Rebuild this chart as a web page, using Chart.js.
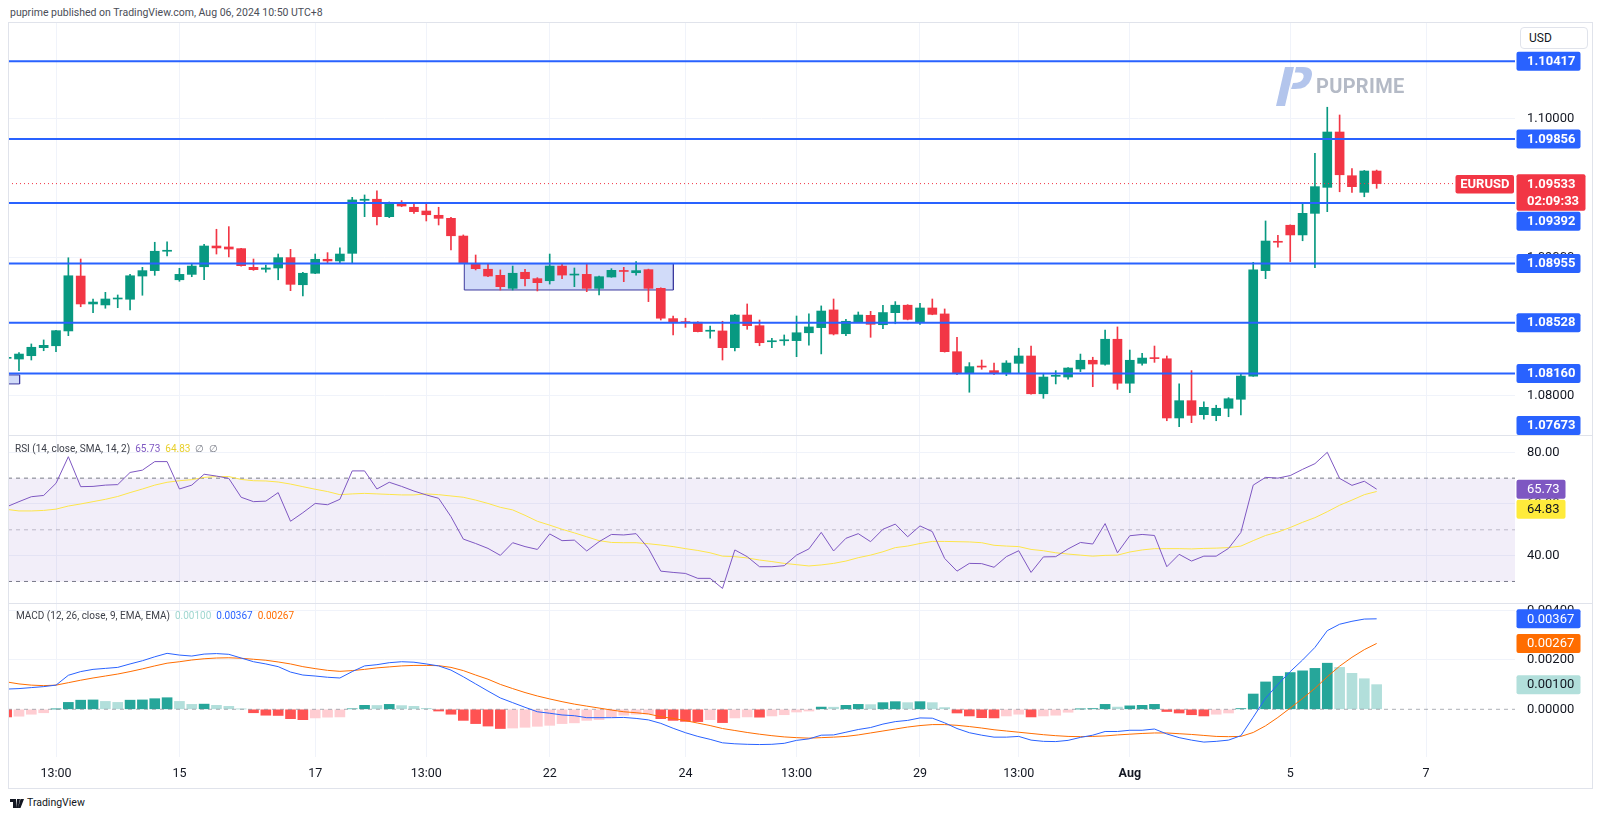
<!DOCTYPE html>
<html><head><meta charset="utf-8"><title>EURUSD 4H</title>
<script src="https://cdn.jsdelivr.net/npm/chart.js@4.4.1/dist/chart.umd.min.js"></script>
<style>
html,body{margin:0;padding:0;background:#fff;}
body{width:1600px;height:819px;position:relative;overflow:hidden;font-family:Roboto,"Liberation Sans",Arial,sans-serif;color:#131722;}
#hdr{position:absolute;left:10px;top:6px;font-size:10.5px;line-height:13px;color:#4a4d57;white-space:nowrap;}
#frame{position:absolute;left:8px;top:22px;width:1585px;height:767px;border:1px solid #e0e3eb;box-sizing:border-box;pointer-events:none;z-index:5;}
.sep{position:absolute;left:8px;width:1585px;height:1px;background:#e0e3eb;z-index:5;}
canvas{position:absolute;left:8px;}
#cMain{top:23px;} #cRsi{top:435px;} #cMacd{top:603px;}
.legend{position:absolute;font-size:10px;line-height:12px;white-space:nowrap;z-index:6;color:#3b3e48;}
.legend span{margin-left:5px;}
#usd{position:absolute;left:1520px;top:27px;width:68px;height:22px;box-sizing:border-box;border:1px solid #e0e3eb;border-radius:4px;font-size:12px;line-height:20px;padding-left:8px;color:#131722;background:#fff;z-index:6;}
#wm{position:absolute;left:1272px;top:64px;z-index:4;pointer-events:none;}
#wmt{position:absolute;left:1316px;top:74px;font-size:20px;font-weight:bold;color:#b4bac6;letter-spacing:0.3px;z-index:4;}
#tv{position:absolute;left:10px;top:796px;font-size:10.5px;color:#131722;white-space:nowrap;}
#tv svg{vertical-align:-2px;margin-right:3px;}
</style></head>
<body>
<div id="hdr">puprime published on TradingView.com, Aug 06, 2024 10:50 UTC+8</div>
<canvas id="cMain" width="1584" height="412"></canvas>
<canvas id="cRsi" width="1584" height="168"></canvas>
<canvas id="cMacd" width="1584" height="185"></canvas>
<div id="frame"></div>
<div class="sep" style="top:435px"></div>
<div class="sep" style="top:603px"></div>
<div id="usd">USD</div>
<svg id="wm" width="44" height="44" viewBox="0 0 44 44">
  <path d="M4 42 L13 3 L22 3 L13 42 Z" fill="#b3c5ec"/>
  <path d="M24 3 L31 3 Q43 3 39 15 Q36 25 23 25 L19 25 L21 19 Q30 19 31.5 13.5 Q32.5 8.5 26.5 8.5 L22.8 8.5 Z" fill="#b3c5ec"/>
</svg>
<div id="wmt">PUPRIME</div>
<div class="legend" id="lgRsi" style="left:15px;top:443px"></div>
<div class="legend" id="lgMacd" style="left:16px;top:610px"></div>
<div id="tv"><svg width="14" height="9" viewBox="0 0 14 9"><path d="M0 0h6v9H3V3H0z M7 0h3l-2 9H6z M10.5 0H14l-3.5 9H8z" fill="#131722"/></svg>TradingView</div>
<script>
// ---------------- DATA ----------------
const firstBar = -4; // index of first candle relative to the "13:00" tick
const openP = [
 1.08270,1.08265,1.08289,1.08347,1.08361,1.08468,1.08865,1.08663,1.08656,1.08699,
 1.08697,1.08865,1.08904,1.09044,1.08838,1.08877,1.08932,1.09082,1.09075,1.09063,
 1.08928,1.08914,1.08923,1.08998,1.08802,1.08885,1.08986,1.08974,1.09029,1.09412,
 1.09420,1.09294,1.09391,1.09362,1.09335,1.09304,1.09282,1.09154,1.08952,1.08914,
 1.08870,1.08776,1.08892,1.08846,1.08831,1.08937,1.08872,1.08877,1.08776,1.08858,
 1.08901,1.08889,1.08911,1.08776,1.08557,1.08531,1.08531,1.08466,1.08468,1.08347,
 1.08583,1.08506,1.08390,1.08397,1.08398,1.08455,1.08492,1.08620,1.08448,1.08531,
 1.08581,1.08513,1.08600,1.08654,1.08535,1.08634,1.08591,1.08318,1.08159,1.08211,
 1.08181,1.08159,1.08234,1.08287,1.08014,1.08140,1.08135,1.08193,1.08256,1.08227,
 1.08408,1.08090,1.08234,1.08272,1.08267,1.07839,1.07964,1.07863,1.07856,1.07909,
 1.07974,1.08142,1.08904,1.09113,1.09232,1.09162,1.09318,1.09506,1.09906,1.09590,1.09470,1.09624];
const highP = [
 1.08285,1.08311,1.08374,1.08403,1.08472,1.08997,1.08988,1.08699,1.08747,1.08728,
 1.08877,1.08928,1.09109,1.09113,1.08921,1.08957,1.09094,1.09203,1.09222,1.09066,
 1.08988,1.08945,1.09024,1.09058,1.08892,1.09024,1.09034,1.09068,1.09434,1.09451,
 1.09480,1.09400,1.09410,1.09391,1.09386,1.09362,1.09289,1.09162,1.09017,1.08952,
 1.08909,1.08937,1.08914,1.08853,1.09024,1.08957,1.08923,1.08957,1.08865,1.08918,
 1.08928,1.08969,1.08915,1.08780,1.08576,1.08560,1.08535,1.08504,1.08538,1.08588,
 1.08663,1.08547,1.08415,1.08439,1.08576,1.08591,1.08649,1.08699,1.08552,1.08605,
 1.08610,1.08654,1.08680,1.08658,1.08668,1.08699,1.08627,1.08422,1.08239,1.08258,
 1.08236,1.08253,1.08343,1.08359,1.08162,1.08181,1.08203,1.08301,1.08278,1.08475,
 1.08497,1.08330,1.08306,1.08359,1.08287,1.08085,1.08181,1.07955,1.07931,1.07986,
 1.08155,1.08964,1.09263,1.09159,1.09235,1.09386,1.09752,1.10085,1.10029,1.09641,1.09628,1.09631];
const lowP = [
 1.08260,1.08181,1.08258,1.08325,1.08318,1.08434,1.08643,1.08600,1.08632,1.08636,
 1.08620,1.08726,1.08870,1.09010,1.08827,1.08860,1.08838,1.09024,1.09003,1.08936,
 1.08906,1.08892,1.08838,1.08759,1.08721,1.08882,1.08959,1.08959,1.08961,1.09294,
 1.09234,1.09287,1.09366,1.09318,1.09263,1.09234,1.09053,1.08955,1.08909,1.08860,
 1.08764,1.08764,1.08793,1.08757,1.08807,1.08846,1.08788,1.08752,1.08728,1.08856,
 1.08824,1.08872,1.08680,1.08547,1.08439,1.08494,1.08461,1.08415,1.08258,1.08323,
 1.08480,1.08361,1.08347,1.08364,1.08282,1.08366,1.08302,1.08439,1.08434,1.08528,
 1.08422,1.08484,1.08520,1.08548,1.08516,1.08585,1.08315,1.08152,1.08025,1.08191,
 1.08152,1.08145,1.08162,1.08011,1.07981,1.08085,1.08119,1.08174,1.08065,1.08220,
 1.08046,1.08022,1.08220,1.08241,1.07819,1.07776,1.07805,1.07830,1.07819,1.07848,
 1.07861,1.08140,1.08846,1.09073,1.08969,1.09120,1.08925,1.09330,1.09474,1.09470,1.09438,1.09499];
const closeP = [
 1.08272,1.08301,1.08350,1.08364,1.08470,1.08867,1.08663,1.08677,1.08699,1.08702,
 1.08867,1.08904,1.09044,1.09051,1.08877,1.08937,1.09082,1.09068,1.09060,1.08940,
 1.08911,1.08923,1.08998,1.08805,1.08885,1.08986,1.08974,1.09024,1.09415,1.09420,
 1.09294,1.09395,1.09371,1.09330,1.09308,1.09282,1.09156,1.08957,1.08918,1.08865,
 1.08788,1.08885,1.08846,1.08817,1.08937,1.08872,1.08875,1.08776,1.08860,1.08906,
 1.08898,1.08904,1.08776,1.08560,1.08531,1.08528,1.08463,1.08470,1.08347,1.08583,
 1.08506,1.08383,1.08393,1.08401,1.08455,1.08497,1.08612,1.08446,1.08538,1.08583,
 1.08516,1.08601,1.08654,1.08552,1.08634,1.08588,1.08318,1.08159,1.08210,1.08207,
 1.08162,1.08236,1.08287,1.08014,1.08135,1.08144,1.08200,1.08256,1.08229,1.08408,
 1.08090,1.08256,1.08272,1.08268,1.07839,1.07964,1.07858,1.07916,1.07909,1.07978,
 1.08142,1.08909,1.09118,1.09109,1.09162,1.09318,1.09511,1.09906,1.09597,1.09511,1.09624,1.09533];
const rsiVals = [
 58.9,60.9,62.8,63.3,68.0,78.3,66.7,66.8,67.3,67.5,
 72.2,73.1,76.4,76.4,65.8,67.3,71.5,70.8,69.9,62.6,
 60.9,61.1,64.4,53.3,56.6,60.2,59.7,61.8,72.8,72.8,
 65.8,68.4,66.8,65.0,63.5,62.2,55.1,46.4,44.7,42.8,
 40.1,45.0,43.5,42.4,48.4,45.8,46.0,41.8,45.4,48.2,
 48.0,48.5,42.8,34.0,33.5,33.1,31.2,31.2,27.3,42.2,
 39.6,35.7,35.7,36.1,40.2,42.6,49.0,41.8,46.7,48.5,
 45.4,50.2,52.2,47.3,51.5,49.3,38.9,34.0,37.0,36.9,
 35.5,39.6,41.9,33.5,39.5,39.6,42.6,45.1,44.5,52.4,
 41.1,47.7,48.2,47.8,35.7,40.5,37.9,39.8,39.8,42.8,
 49.0,67.3,70.3,70.0,71.0,73.4,75.6,80.0,69.9,67.2,68.8,65.73];
const rsiMa = [
 57.9,57.3,57.3,57.5,58.0,59.2,60.0,60.9,61.8,62.9,
 64.4,65.8,67.3,68.4,69.0,69.4,70.3,70.6,70.6,69.5,
 69.0,68.9,68.5,67.7,66.7,65.7,64.8,63.6,63.9,64.1,
 63.9,63.7,63.5,63.5,63.9,63.6,63.1,62.6,61.5,60.2,
 58.7,57.7,55.6,53.3,51.8,50.2,48.8,47.3,45.8,45.1,
 45.0,45.0,44.6,44.1,43.5,42.7,42.0,41.1,39.8,39.6,
 39.1,38.3,37.7,37.0,36.5,36.0,36.4,37.0,37.9,39.2,
 40.2,41.5,43.1,43.7,44.7,45.5,45.5,45.4,45.3,45.0,
 44.0,43.7,43.5,42.4,41.9,41.1,40.6,40.2,39.8,40.1,
 40.2,41.4,42.2,42.7,42.7,42.7,42.6,42.8,42.9,43.1,
 43.7,45.8,47.8,49.1,50.9,52.9,54.7,57.0,59.5,61.5,63.6,64.83];
const macdLine = [
 0.00082,0.00084,0.00088,0.00092,0.00098,0.00138,0.00153,0.00162,0.00166,0.00170,
 0.00184,0.00197,0.00213,0.00227,0.00220,0.00216,0.00224,0.00226,0.00223,0.00208,
 0.00193,0.00184,0.00173,0.00151,0.00139,0.00135,0.00130,0.00127,0.00153,0.00176,
 0.00181,0.00189,0.00193,0.00191,0.00184,0.00176,0.00159,0.00132,0.00103,0.00074,
 0.00046,0.00027,0.00008,-0.00010,-0.00016,-0.00023,-0.00026,-0.00034,-0.00034,-0.00034,
 -0.00033,-0.00037,-0.00043,-0.00057,-0.00077,-0.00095,-0.00110,-0.00122,-0.00136,-0.00140,
 -0.00142,-0.00143,-0.00142,-0.00138,-0.00126,-0.00120,-0.00105,-0.00104,-0.00093,-0.00082,
 -0.00074,-0.00060,-0.00050,-0.00045,-0.00035,-0.00036,-0.00055,-0.00078,-0.00095,-0.00105,
 -0.00113,-0.00113,-0.00110,-0.00125,-0.00130,-0.00131,-0.00126,-0.00114,-0.00105,-0.00090,
 -0.00090,-0.00085,-0.00085,-0.00080,-0.00100,-0.00115,-0.00125,-0.00133,-0.00130,-0.00125,
 -0.00107,-0.00032,0.00045,0.00101,0.00153,0.00200,0.00251,0.00319,0.00345,0.00357,0.00366,0.00367];
const signalLine = [
 0.00111,0.00103,0.00098,0.00096,0.00098,0.00108,0.00118,0.00127,0.00135,0.00143,
 0.00153,0.00164,0.00176,0.00187,0.00193,0.00200,0.00205,0.00208,0.00209,0.00207,
 0.00203,0.00199,0.00192,0.00184,0.00173,0.00165,0.00158,0.00154,0.00157,0.00162,
 0.00168,0.00172,0.00176,0.00178,0.00178,0.00177,0.00170,0.00157,0.00139,0.00122,
 0.00101,0.00084,0.00068,0.00054,0.00042,0.00031,0.00021,0.00013,0.00005,-0.00003,
 -0.00010,-0.00014,-0.00019,-0.00030,-0.00037,-0.00046,-0.00056,-0.00066,-0.00078,-0.00086,
 -0.00094,-0.00101,-0.00107,-0.00112,-0.00115,-0.00117,-0.00115,-0.00113,-0.00110,-0.00104,
 -0.00096,-0.00088,-0.00080,-0.00072,-0.00066,-0.00062,-0.00062,-0.00065,-0.00070,-0.00076,
 -0.00083,-0.00088,-0.00093,-0.00098,-0.00103,-0.00107,-0.00110,-0.00111,-0.00110,-0.00108,
 -0.00104,-0.00101,-0.00098,-0.00096,-0.00096,-0.00099,-0.00102,-0.00106,-0.00110,-0.00111,
 -0.00110,-0.00094,-0.00067,-0.00033,0.00005,0.00044,0.00085,0.00132,0.00175,0.00211,0.00242,0.00267];
const histVals = [
 -0.00031,-0.00028,-0.00020,-0.00014,0.00001,0.00028,0.00037,0.00038,0.00032,0.00028,
 0.00037,0.00038,0.00043,0.00047,0.00032,0.00020,0.00021,0.00016,0.00012,0.00001,
 -0.00014,-0.00024,-0.00025,-0.00038,-0.00042,-0.00035,-0.00032,-0.00031,0.00002,0.00016,
 0.000155,0.00020,0.00015,0.00012,0.00004,-0.00007,-0.00020,-0.00045,-0.00058,-0.00068,
 -0.00078,-0.00076,-0.00073,-0.00069,-0.00065,-0.00058,-0.00055,-0.00045,-0.00042,-0.00031,
 -0.00024,-0.00020,-0.00019,-0.00038,-0.00045,-0.00049,-0.00050,-0.00042,-0.00054,-0.00035,
 -0.00031,-0.00032,-0.00027,-0.00022,-0.00011,-0.00007,0.00009,0.000085,0.00016,0.00020,
 0.00019,0.00027,0.00031,0.00027,0.00031,0.00027,0.00007,-0.00015,-0.00027,-0.00034,
 -0.00035,-0.00027,-0.00020,-0.00031,-0.00027,-0.00024,-0.00012,0.00001,0.00003,0.00020,
 0.00009,0.00014,0.00016,0.00020,-0.00009,-0.00015,-0.00022,-0.00027,-0.00020,-0.00015,
 0.00003,0.00062,0.00111,0.00134,0.00149,0.00156,0.00166,0.00187,0.00170,0.00146,0.00124,0.00100];
const levelPrices = [1.10417, 1.09856, 1.09392, 1.08955, 1.08528, 1.08160, 1.07673];
const zoneMain = {from: 33.08, to: 50.02, top: 1.08955, bottom: 1.08764};
const zoneLeft = {from: -5, to: -2.95, top: 1.08150, bottom: 1.08085};
const tickPositions = [0, 10, 21, 30, 40, 51, 60, 70, 78, 87, 100, 111];
const tickLabels = ['13:00','15','17','13:00','22','24','13:00','29','13:00','Aug','5','7'];
const priceTicks = [1.08, 1.09, 1.10];
const rsiTicks = [40, 60, 80];
const macdTicks = [0, 0.002, 0.004];
const rsiBands = [70, 50, 30];
const symbolName = 'EURUSD';
const countdown = '02:09:33';
const viewRange = {xMin: -3.89, xMax: 118.21, pMin: 1.077159, pMax: 1.106939, rMin: 21.66, rMax: 86.70, mMin: -0.001935, mMax: 0.004312};

// ---------------- CHARTS ----------------
const FONT = 'Roboto, "Liberation Sans", Arial, sans-serif';
const UP = '#089981', DOWN = '#f23645', BLUE = '#2962ff', GRID = '#f0f3fa';
const N = openP.length;
const idx = Array.from({length: N}, (_, i) => firstBar + i);
const lastPrice = closeP[N - 1];
const candleCol = idx.map((_, i) => closeP[i] >= openP[i] ? UP : DOWN);
const histCol = histVals.map((v, i) => {
  const p = i > 0 ? histVals[i - 1] : v;
  if (v >= 0) return p < v ? '#26a69a' : '#b2dfdb';
  return p < v ? '#ffcdd2' : '#ff5252';
});
const seg = (y) => [{x: viewRange.xMin, y}, {x: viewRange.xMax, y}];
const noPad = s => { s.paddingTop = 0; s.paddingBottom = 0; s.paddingLeft = 0; s.paddingRight = 0; };

function xAxis(show) {
  return {
    type: 'linear', min: viewRange.xMin, max: viewRange.xMax, offset: false,
    afterBuildTicks: s => { s.ticks = tickPositions.map(v => ({value: v})); },
    afterFit: s => { s.height = show ? 31 : 0; noPad(s); },
    grid: {color: GRID, drawTicks: false, offset: false},
    border: {display: false},
    ticks: {display: show, autoSkip: false, maxRotation: 0, minRotation: 0, padding: 9, color: '#131722',
      font: c => ({family: FONT, size: 12.5, weight: tickLabels[c.index] === 'Aug' ? 'bold' : 'normal'}),
      callback: (v, i) => tickLabels[i]}
  };
}
function yAxis(min, max, ticks, fmt, gridCol) {
  return {
    position: 'right', min, max,
    afterBuildTicks: s => { s.ticks = ticks.map(v => ({value: v})); },
    afterFit: s => { s.width = 77; noPad(s); },
    grid: {color: gridCol || GRID, drawTicks: false},
    border: {display: false},
    ticks: {padding: 12, color: '#131722', font: {family: FONT, size: 13}, callback: v => fmt(v)}
  };
}
function drawBoxes(chart, items) {
  const {ctx, chartArea} = chart;
  const ys = chart.scales.y;
  const L = items.map(it => {
    const py = ys.getPixelForValue(it.value);
    return Object.assign({}, it, {py, top: py - it.anchor});
  }).sort((a, b) => a.py - b.py);
  let prev = -1e9;
  L.forEach(a => { if (a.top < prev + 1) a.top = prev + 1; prev = a.top + a.h; });
  for (let i = L.length - 1; i >= 0; i--) {
    const lim = i === L.length - 1 ? chartArea.bottom : L[i + 1].top - 1;
    if (L[i].top + L[i].h > lim) L[i].top = lim - L[i].h;
  }
  ctx.save();
  L.forEach(a => {
    const x = chartArea.right + 1.5;
    ctx.fillStyle = a.bg;
    ctx.beginPath(); ctx.roundRect(x, a.top, a.w, a.h, 2); ctx.fill();
    ctx.fillStyle = a.fg;
    ctx.font = (a.bold ? 'bold ' : '') + '13px ' + FONT;
    ctx.textBaseline = 'middle'; ctx.textAlign = 'left';
    ctx.fillText(a.text, chartArea.right + 12, a.top + 10);
    if (a.text2) ctx.fillText(a.text2, chartArea.right + 12, a.top + 27);
  });
  ctx.restore();
}
const lineDs = (data, color, extra) => Object.assign({type: 'line', data, borderColor: color, borderWidth: 1, pointRadius: 0, tension: 0, fill: false}, extra || {});

// ----- main price pane -----
const mainDatasets = [
  lineDs([{x: zoneMain.from, y: zoneMain.top}, {x: zoneMain.to, y: zoneMain.top}], 'transparent', {fill: '+1', backgroundColor: 'rgba(72,110,230,0.25)', order: 9}),
  lineDs([{x: zoneMain.from, y: zoneMain.bottom}, {x: zoneMain.to, y: zoneMain.bottom}], 'transparent', {order: 9}),
  lineDs([{x: zoneLeft.from, y: zoneLeft.top}, {x: zoneLeft.to, y: zoneLeft.top}], 'transparent', {fill: '+1', backgroundColor: 'rgba(72,110,230,0.25)', order: 9}),
  lineDs([{x: zoneLeft.from, y: zoneLeft.bottom}, {x: zoneLeft.to, y: zoneLeft.bottom}], 'transparent', {order: 9}),
  lineDs([{x: zoneMain.from, y: zoneMain.top}, {x: zoneMain.to, y: zoneMain.top}, {x: zoneMain.to, y: zoneMain.bottom}, {x: zoneMain.from, y: zoneMain.bottom}, {x: zoneMain.from, y: zoneMain.top}], '#3d3a9e', {order: 8}),
  lineDs([{x: zoneLeft.from, y: zoneLeft.top}, {x: zoneLeft.to, y: zoneLeft.top}, {x: zoneLeft.to, y: zoneLeft.bottom}, {x: zoneLeft.from, y: zoneLeft.bottom}, {x: zoneLeft.from, y: zoneLeft.top}], '#3d3a9e', {order: 8}),
  {type: 'bar', data: idx.map((k, i) => ({x: k, y: [lowP[i], highP[i]]})), backgroundColor: candleCol, barThickness: 1, grouped: false, order: 7},
  {type: 'bar', data: idx.map((k, i) => ({x: k, y: [openP[i], closeP[i]]})), backgroundColor: candleCol, barThickness: 9, minBarLength: 1, grouped: false, order: 6},
  lineDs(seg(lastPrice), DOWN, {borderDash: [1, 3], order: 5})
].concat(levelPrices.map(p => lineDs(seg(p), BLUE, {borderWidth: 2, order: 4})));

new Chart(document.getElementById('cMain'), {
  type: 'bar',
  data: {datasets: mainDatasets},
  options: {
    responsive: false, animation: false, devicePixelRatio: 1,
    layout: {padding: 0},
    plugins: {legend: {display: false}, tooltip: {enabled: false}},
    scales: {x: xAxis(false), y: yAxis(viewRange.pMin, viewRange.pMax, priceTicks, v => v.toFixed(5))}
  },
  plugins: [{id: 'mainLabels', afterDraw(chart) {
    const items = levelPrices.map(p => ({value: p, text: p.toFixed(5), bg: BLUE, fg: '#fff', w: 64, h: 19, anchor: 9.5, bold: true}));
    items.push({value: lastPrice, text: lastPrice.toFixed(5), text2: countdown, bg: DOWN, fg: '#fff', w: 69, h: 36.5, anchor: 9.3, bold: true});
    drawBoxes(chart, items);
    const {ctx, chartArea} = chart;
    const py = chart.scales.y.getPixelForValue(lastPrice);
    ctx.save();
    ctx.fillStyle = DOWN;
    ctx.beginPath(); ctx.roundRect(chartArea.right - 59.5, py - 8.6, 58.5, 18.6, 2); ctx.fill();
    ctx.fillStyle = '#fff'; ctx.font = 'bold 13px ' + FONT; ctx.textBaseline = 'middle'; ctx.textAlign = 'center';
    ctx.fillText(symbolName, chartArea.right - 30.2, py + 0.8);
    ctx.restore();
  }}]
});

// ----- RSI pane -----
new Chart(document.getElementById('cRsi'), {
  type: 'line',
  data: {datasets: [
    lineDs(seg(rsiBands[0]), '#787b86', {borderDash: [4, 4], fill: '+1', backgroundColor: 'rgba(126,87,194,0.1)', order: 5}),
    lineDs(seg(rsiBands[2]), '#787b86', {borderDash: [4, 4], order: 5}),
    lineDs(seg(rsiBands[1]), 'rgba(120,123,134,0.45)', {borderDash: [4, 4], order: 5}),
    lineDs(idx.map((k, i) => ({x: k, y: rsiMa[i]})), '#fde54a', {order: 2}),
    lineDs(idx.map((k, i) => ({x: k, y: rsiVals[i]})), '#7e57c2', {order: 1})
  ]},
  options: {
    responsive: false, animation: false, devicePixelRatio: 1, layout: {padding: 0},
    plugins: {legend: {display: false}, tooltip: {enabled: false}},
    scales: {x: xAxis(false), y: yAxis(viewRange.rMin, viewRange.rMax, rsiTicks, v => v.toFixed(2))}
  },
  plugins: [{id: 'rsiLabels', afterDraw(chart) {
    drawBoxes(chart, [
      {value: rsiVals[N - 1], text: rsiVals[N - 1].toFixed(2), bg: '#7e57c2', fg: '#fff', w: 49, h: 19, anchor: 9.5},
      {value: rsiMa[N - 1], text: rsiMa[N - 1].toFixed(2), bg: '#ffeb3b', fg: '#131722', w: 49, h: 19, anchor: 9.5}
    ]);
  }}]
});

// ----- MACD pane -----
new Chart(document.getElementById('cMacd'), {
  type: 'bar',
  data: {datasets: [
    {type: 'bar', data: idx.map((k, i) => ({x: k, y: histVals[i]})), backgroundColor: histCol, barThickness: 10, grouped: false, order: 5},
    lineDs(seg(0), 'rgba(120,123,134,0.6)', {borderDash: [4, 4], order: 4}),
    lineDs(idx.map((k, i) => ({x: k, y: signalLine[i]})), '#ff6d00', {order: 2}),
    lineDs(idx.map((k, i) => ({x: k, y: macdLine[i]})), BLUE, {order: 1})
  ]},
  options: {
    responsive: false, animation: false, devicePixelRatio: 1, layout: {padding: 0},
    plugins: {legend: {display: false}, tooltip: {enabled: false}},
    scales: {x: xAxis(true), y: yAxis(viewRange.mMin, viewRange.mMax, macdTicks, v => v.toFixed(5), c => c.tick && c.tick.value === 0 ? 'transparent' : GRID)}
  },
  plugins: [{id: 'macdLabels', afterDraw(chart) {
    drawBoxes(chart, [
      {value: macdLine[N - 1], text: macdLine[N - 1].toFixed(5), bg: BLUE, fg: '#fff', w: 64, h: 19, anchor: 9.5},
      {value: signalLine[N - 1], text: signalLine[N - 1].toFixed(5), bg: '#ff6d00', fg: '#fff', w: 64, h: 19, anchor: 9.5},
      {value: histVals[N - 1], text: histVals[N - 1].toFixed(5), bg: '#b2dfdb', fg: '#131722', w: 64, h: 19, anchor: 9.5}
    ]);
  }}]
});

// ----- legends -----
document.getElementById('lgRsi').innerHTML = 'RSI (14, close, SMA, 14, 2)' +
  '<span style="color:#7e57c2">' + rsiVals[N - 1].toFixed(2) + '</span>' +
  '<span style="color:#e8cf2a">' + rsiMa[N - 1].toFixed(2) + '</span>' +
  '<span style="color:#787b86">\u2205</span><span style="color:#787b86">\u2205</span>';
document.getElementById('lgMacd').innerHTML = 'MACD (12, 26, close, 9, EMA, EMA)' +
  '<span style="color:#9fd6d0">' + histVals[N - 1].toFixed(5) + '</span>' +
  '<span style="color:#2962ff">' + macdLine[N - 1].toFixed(5) + '</span>' +
  '<span style="color:#ff6d00">' + signalLine[N - 1].toFixed(5) + '</span>';
</script>
</body></html>
